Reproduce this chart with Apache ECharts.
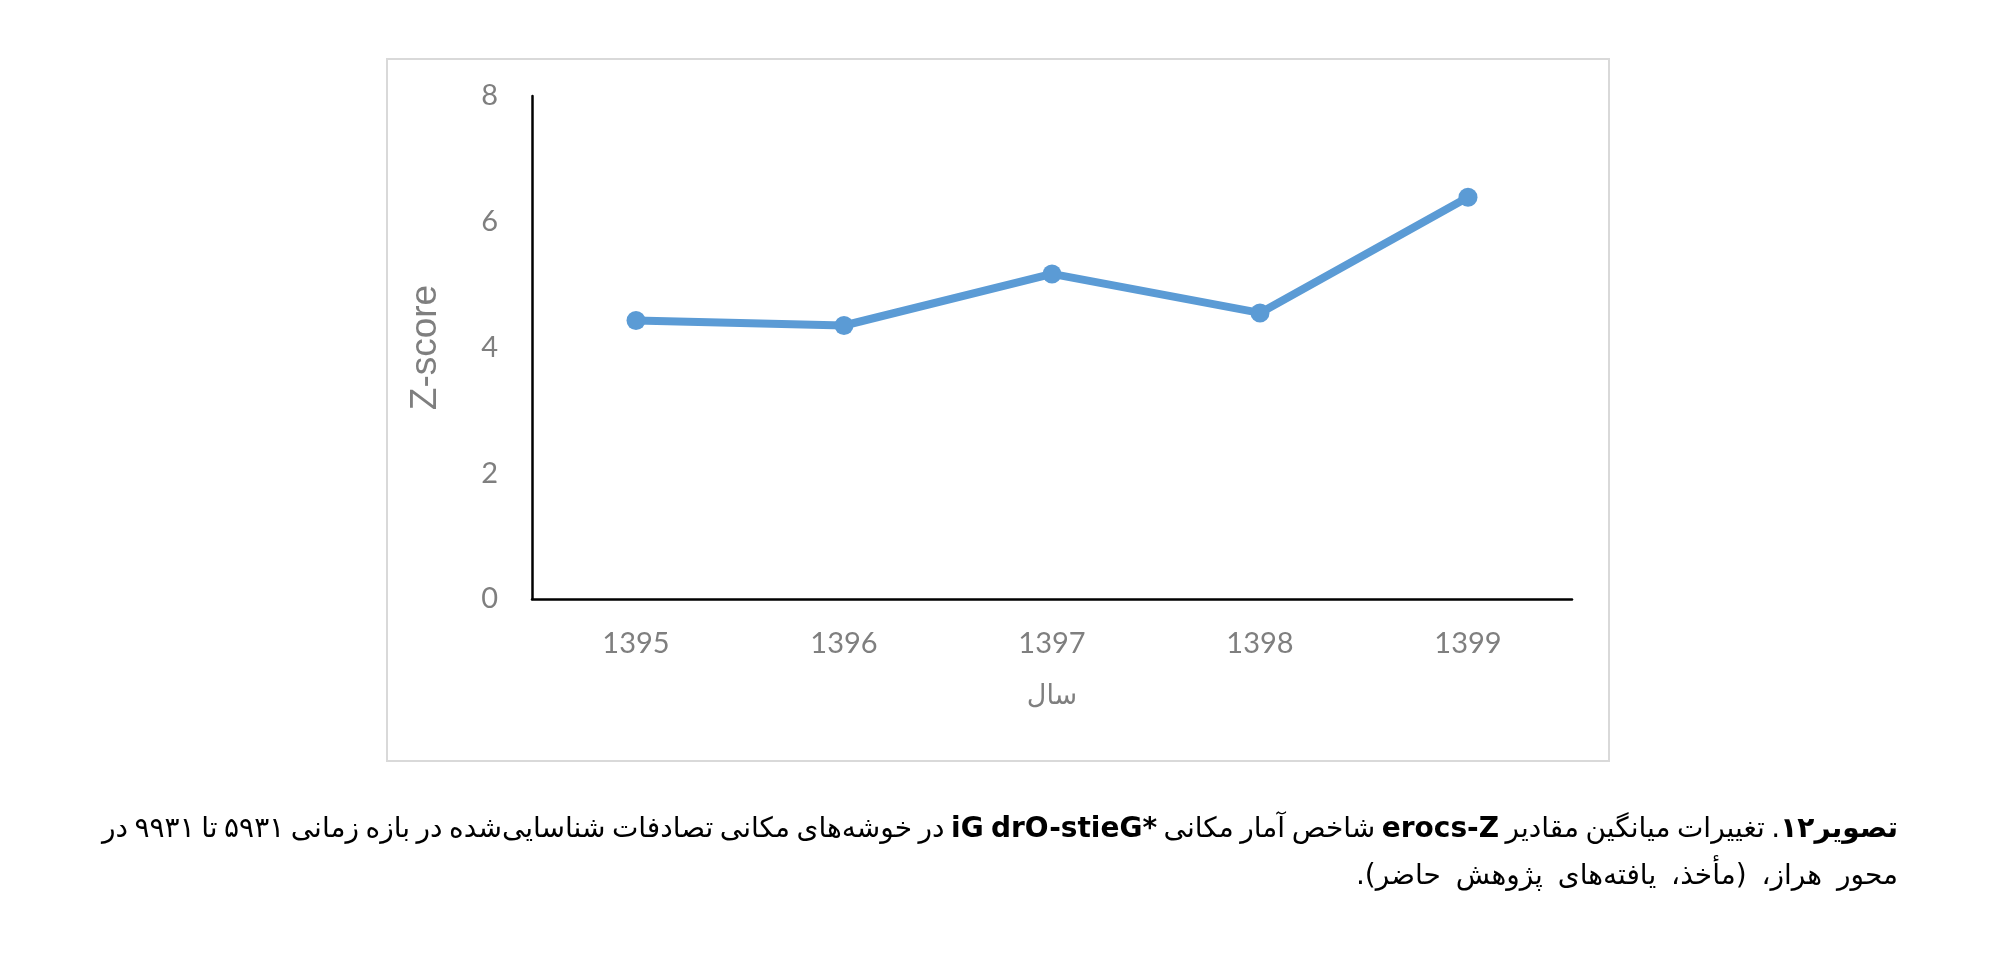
<!DOCTYPE html>
<html>
<head>
<meta charset="utf-8">
<script src="https://cdn.jsdelivr.net/npm/echarts@6/dist/echarts.min.js"></script>
<style>
html,body{margin:0;padding:0;background:#fff;}
#chart{position:absolute;left:0;top:0;width:2000px;height:967px;}
.cap{position:absolute;right:102px;width:1796px;direction:rtl;font-family:"DejaVu Sans",sans-serif;font-size:28px;color:#000;white-space:nowrap;}
#l1{top:811px;text-align:justify;text-align-last:justify;word-spacing:-5px;}
#l2{top:858px;text-align:right;word-spacing:6px;}
</style>
</head>
<body>
<div id="chart"></div>
<div class="cap" id="l1" dir="rtl"><b>تصویر۱۲</b>. تغییرات میانگین مقادیر <b>erocs-Z</b> شاخص آمار مکانی <b>*iG drO-stieG</b> در خوشه‌های مکانی تصادفات شناسایی‌شده در بازه زمانی ۵۹۳۱ تا ۹۹۳۱ در</div>
<div class="cap" id="l2" dir="rtl">محور هراز، (مأخذ، یافته‌های پژوهش حاضر).</div>
<script>
const years = ['1395', '1396', '1397', '1398', '1399'];
const zScores = [4.43, 4.35, 5.17, 4.55, 6.39];
const yTicks = {min: 0, max: 8, interval: 2};

const chart = echarts.init(document.getElementById('chart'));
chart.setOption({
  animation: false,
  backgroundColor: '#ffffff',
  graphic: [{
    type: 'rect',
    shape: {x: 387, y: 59, width: 1222, height: 702},
    style: {fill: 'none', stroke: '#D9D9D9', lineWidth: 2},
    silent: true,
    z: -1
  }],
  grid: {left: 532, right: 428, top: 96, bottom: 368, containLabel: false},
  xAxis: {
    type: 'category',
    data: years,
    boundaryGap: true,
    axisLine: {show: true, lineStyle: {color: '#000', width: 2.5}},
    axisTick: {show: false},
    axisLabel: {color: '#7F7F7F', fontFamily: 'Lato', fontSize: 29, margin: 30},
    name: 'سال',
    nameLocation: 'middle',
    nameGap: 84,
    nameTextStyle: {color: '#7F7F7F', fontFamily: 'DejaVu Sans', fontSize: 27}
  },
  yAxis: {
    type: 'value',
    min: yTicks.min,
    max: yTicks.max,
    interval: yTicks.interval,
    axisLine: {show: true, lineStyle: {color: '#000', width: 2.5}},
    axisTick: {show: false},
    splitLine: {show: false},
    axisLabel: {color: '#7F7F7F', fontFamily: 'Lato', fontSize: 29, margin: 34},
    name: 'Z-score',
    nameLocation: 'middle',
    nameRotate: 90,
    nameGap: 88,
    nameTextStyle: {color: '#7F7F7F', fontFamily: 'Liberation Sans', fontSize: 37}
  },
  series: [{
    type: 'line',
    data: zScores,
    symbol: 'circle',
    symbolSize: 19,
    lineStyle: {color: '#5B9BD5', width: 8},
    itemStyle: {color: '#5B9BD5'}
  }]
});
</script>
</body>
</html>
